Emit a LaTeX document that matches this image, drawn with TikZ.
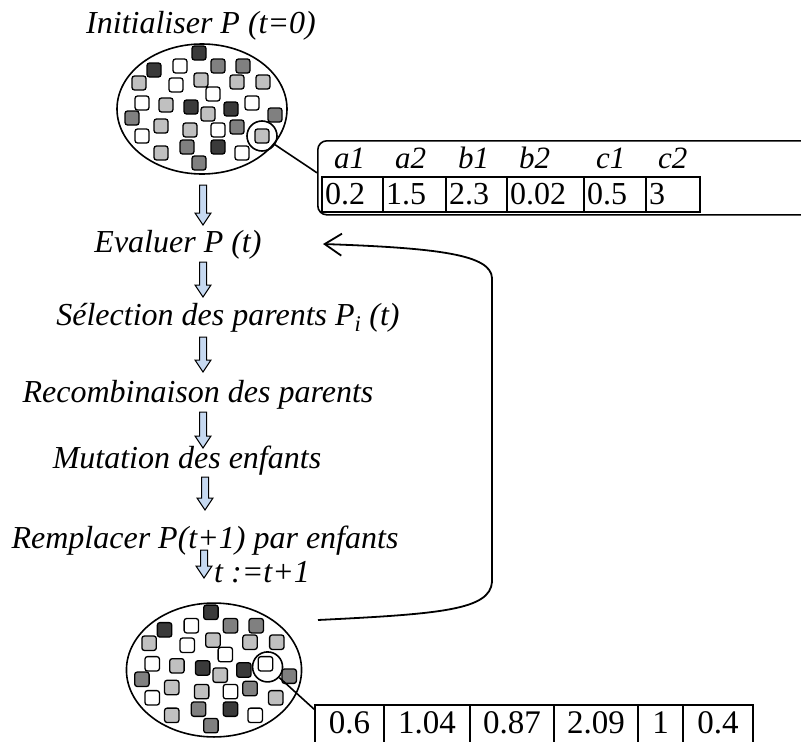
\documentclass[tikz,border=0pt]{standalone}
\usepackage{fontspec}
\setmainfont{Liberation Serif}
\usetikzlibrary{arrows.meta,positioning}

\definecolor{arrowblue}{RGB}{198,217,241}
\definecolor{sqdark}{RGB}{58,58,58}
\definecolor{sqmid}{RGB}{128,128,128}
\definecolor{sqlight}{RGB}{192,192,192}

\tikzset{
  stage/.style={font=\fontsize{32}{38}\selectfont\itshape, inner sep=0pt, anchor=base},
  gene/.style={draw, line width=1.3pt, rounded corners=2.5pt},
  blockarrow/.style={draw, line width=1pt, fill=arrowblue},
  pick/.style={draw, circle, minimum size=30pt, inner sep=0pt, line width=1.6pt},
}

% down arrow between two steps: x, top, tip
\newcommand{\flowarrow}[3]{%
  \draw[blockarrow] (#1-3.5,#2) -- (#1+3.5,#2) -- (#1+3.5,#3-12) -- (#1+8,#3-12)
    -- (#1,#3) -- (#1-8,#3-12) -- (#1-3.5,#3-12) -- cycle;}

% one population of individuals
\newcommand{\population}{%
  \draw[line width=1.6pt] (0,0) ellipse (85 and 65);
  \foreach \dx/\dy/\c in {-3/-56/sqdark, -48/-39/sqdark, -22/-43/white, 16/-43/sqmid,
      41/-43/sqmid, -63/-26/sqlight, -26/-24/white, -1/-29/sqlight, 35/-27/sqlight,
      61/-27/sqlight, 11/-15/white, -60/-6/white, -36/-4/sqlight, -11/-2/sqdark,
      6/5/sqlight, 29/0/sqdark, 50/-6/white, 73/6/sqmid, -70/9/sqmid, -41/17/sqlight,
      -12/21/sqlight, 16/21/white, 35/18/sqmid, 60/27/sqlight, -60/27/white,
      -41/44/sqlight, -15/38/sqmid, 16/38/sqdark, 40/44/white, -3/54/sqmid}
    \draw[gene, fill=\c] (\dx-7,\dy-7) rectangle (\dx+7,\dy+7);}

\begin{document}
\begin{tikzpicture}[x=1pt, y=-1pt]
  \useasboundingbox (0,0) rectangle (801,742);
  \clip (0,0) rectangle (801,742);

  % initial population
  \node[stage] (init) at (201,33) {Initialiser P (t=0)};
  \begin{scope}[shift={(202,109)}]
    \population
    \node[pick] (pick1) at (60,27) {};
  \end{scope}

  % chromosome of the picked individual
  \node[draw, line width=1.6pt, rounded corners=9pt, minimum width=513pt,
    minimum height=74pt, inner sep=0pt, anchor=north west] (chromo) at (317,140) {};
  \foreach \xa/\xb/\lab/\v [count=\i] in {322/383/a1/0.2, 383/446/a2/1.5,
      446/507/b1/2.3, 507/584/b2/0.02, 584/646/c1/0.5, 646/700/c2/3} {
    \draw[line width=1.6pt] (\xa,177) rectangle (\xb,212);
    \node[anchor=base west, inner sep=0pt, font=\fontsize{31}{36}\selectfont\itshape]
      (par\i) at (\xa+12,168) {\lab};
    \node[anchor=base west, inner sep=0pt, font=\fontsize{32}{38}\selectfont]
      (val\i) at (\xa+3,204) {\v};
  }
  \draw[line width=1.6pt] (pick1) -- ([yshift=5pt]chromo.west);

  % steps
  \node[stage] (eval) at (178,252) {Evaluer P (t)};
  \node[stage] (select) at (228,325) {Sélection des parents P\textsubscript{i} (t)};
  \node[stage] (recomb) at (198,402) {Recombinaison des parents};
  \node[stage] (mutat) at (187,468) {Mutation des enfants};
  \node[stage] (repl) at (205,548) {Remplacer P(t+1) par enfants};
  \node[stage, anchor=base west] (incr) at (214,582) {t :=t+1};

  \flowarrow{203}{185}{225}
  \flowarrow{203}{262}{297}
  \flowarrow{203}{337}{372}
  \flowarrow{203}{412}{448}
  \flowarrow{205}{477}{510}
  \flowarrow{204}{550}{578}

  % new population
  \begin{scope}[shift={(214,670)}, scale=1.03]
    \population
    \node[pick] (pick2) at (52,-3) {};
  \end{scope}

  \foreach \xa/\xb/\v [count=\i] in {315/384/0.6, 384/470/1.04, 470/554/0.87,
      554/638/2.09, 638/683/1, 683/753/0.4} {
    \draw[line width=1.6pt] (\xa,705) rectangle (\xb,760);
    \node[anchor=base, inner sep=0pt, font=\fontsize{33}{39}\selectfont]
      (child\i) at ({(\xa+\xb)/2},733) {\v};
  }
  \coordinate (row) at (315,705);
  \draw[line width=1.6pt] (pick2) -- ([yshift=-5pt]row);

  % loop back to evaluation
  \coordinate (loopstart) at (318,620);
  \coordinate (looptip) at (323,244);
  \draw[line width=1.8pt, -{Straight Barb[length=17pt,width=22pt]}] (loopstart)
    .. controls (440,614) and (490,610) .. (492,582) -- (492,278)
    .. controls (491,255) and (440,248) .. (looptip);
\end{tikzpicture}
\end{document}
